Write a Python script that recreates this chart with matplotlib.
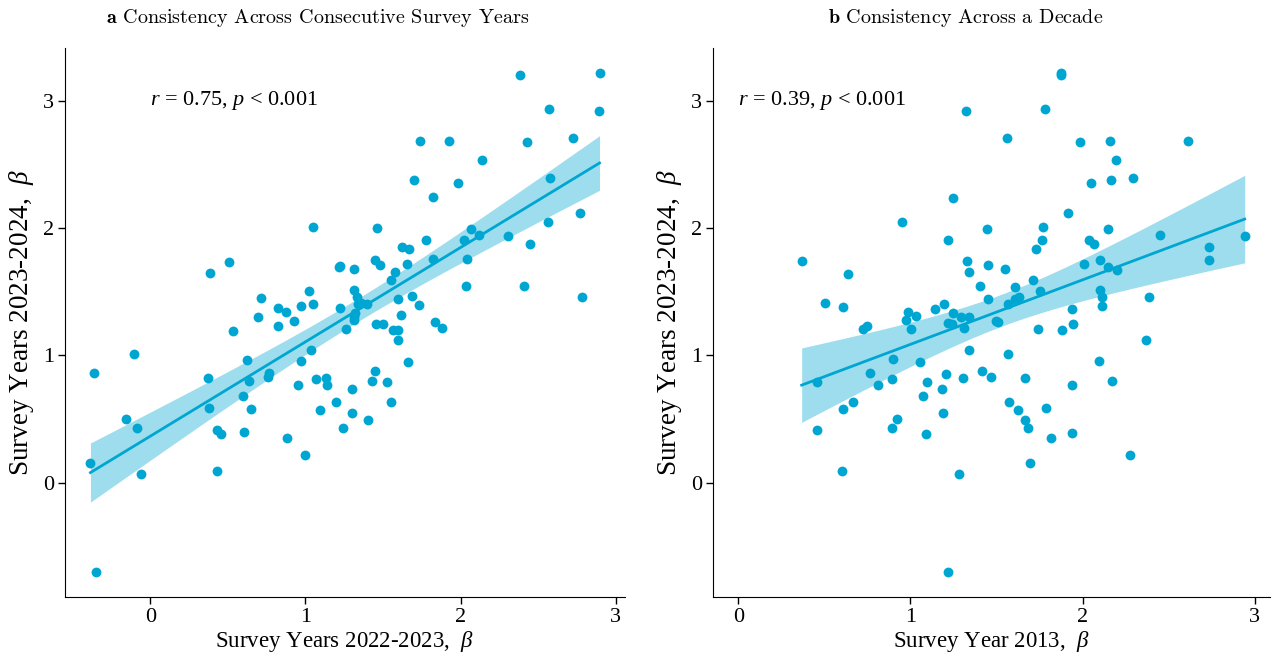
import numpy as np
import matplotlib
matplotlib.use('Agg')
import matplotlib.pyplot as plt

plt.rcParams['font.family'] = ['Liberation Serif', 'DejaVu Serif']
plt.rcParams['mathtext.fontset'] = 'custom'
plt.rcParams['mathtext.rm'] = 'Liberation Serif'
plt.rcParams['mathtext.it'] = 'Liberation Serif:italic'
plt.rcParams['mathtext.bf'] = 'cmb10'

# panel a: 2022-2023 beta (x) vs 2023-2024 beta (y)
a_x = [1.048, 0.509, 0.386, 1.215, 1.223, 1.316, 1.31, 1.02, 1.048, 0.715,
       0.82, 0.873, 0.97, 1.223, 0.697, 0.826, 0.925, 0.53, 1.262, 2.381,
       2.896, 2.567, 2.891, 1.74, 1.928, 2.427, 2.722, 2.138, 1.698, 1.983,
       2.576, 1.824, 1.46, 2.07, 2.024, 2.119, 2.307, 2.563, 2.771, 1.78,
       1.623, 1.666, 1.449, 1.483, 1.657, 1.824, 2.043, 2.449, 1.579, 1.549,
       1.33, 1.356, 1.399, 1.599, 1.689, 1.734, 1.616, 2.033, 2.41, 2.786,
       1.32, 1.31, 1.457, 1.50, 1.567, 1.597, 1.837, 1.882, 1.599, 1.659,
       1.451, 1.43, 1.528, 1.298, 1.554, 1.302, 1.406, 1.245, -0.363, -0.107,
       -0.386, -0.348, -0.155, -0.086, -0.06, 0.369, 0.38, 0.433, 0.457, 0.433,
       0.623, 0.638, 0.595, 0.649, 0.607, 0.762, 0.756, 0.953, 0.97, 1.033,
       0.878, 0.999, 1.069, 1.131, 1.138, 1.095, 1.198, 1.338, 1.31]
a_y = [2.01, 1.737, 1.643, 1.69, 1.70, 1.68, 1.51, 1.505, 1.40, 1.452,
       1.37, 1.34, 1.384, 1.37, 1.30, 1.23, 1.266, 1.195, 1.21, 3.205,
       3.218, 2.935, 2.92, 2.684, 2.686, 2.678, 2.705, 2.535, 2.377, 2.354,
       2.393, 2.24, 1.997, 1.992, 1.906, 1.945, 1.937, 2.047, 2.12, 1.906,
       1.853, 1.835, 1.748, 1.709, 1.714, 1.753, 1.753, 1.874, 1.656, 1.591,
       1.46, 1.415, 1.40, 1.444, 1.465, 1.394, 1.313, 1.544, 1.541, 1.46,
       1.336, 1.277, 1.25, 1.25, 1.203, 1.203, 1.263, 1.214, 1.12, 0.949,
       0.876, 0.797, 0.792, 0.739, 0.637, 0.546, 0.49, 0.428, 0.86, 1.009,
       0.153, -0.702, 0.50, 0.43, 0.068, 0.823, 0.587, 0.417, 0.385, 0.094,
       0.967, 0.80, 0.684, 0.582, 0.396, 0.862, 0.833, 0.77, 0.954, 1.041,
       0.354, 0.22, 0.813, 0.825, 0.766, 0.574, 0.637, 1.405, 1.30]

# panel b: 2013 beta (x) vs 2023-2024 beta (y)
b_x = [1.322, 1.245, 0.949, 1.447, 1.22, 0.368, 0.636, 1.326, 1.342, 1.453,
       1.405, 1.449, 0.505, 0.61, 0.986, 0.974, 1.032, 1.14, 1.193, 1.245,
       1.294, 1.342, 1.22, 1.24, 0.749, 0.726, 1.001, 1.311, 1.496, 1.338,
       0.901, 1.053, 0.457, 0.765, 0.811, 0.89, 1.094, 1.205, 1.184, 1.307,
       1.413, 1.467, 1.072, 0.607, 0.666, 1.192, 0.922, 0.893, 0.457, 1.088,
       0.605, 1.28, 1.219, 1.877, 1.877, 1.78, 1.563, 1.988, 2.159, 2.611,
       2.197, 2.047, 2.167, 2.292, 1.915, 1.77, 1.767, 1.73, 2.036, 2.067,
       2.149, 2.448, 2.942, 2.736, 2.736, 1.549, 2.007, 2.101, 2.148, 2.203,
       1.711, 1.607, 1.75, 1.605, 1.628, 1.568, 2.101, 2.111, 2.111, 1.94,
       1.946, 2.386, 1.509, 1.744, 1.882, 2.37, 1.568, 1.668, 2.098, 2.169,
       1.938, 1.574, 1.624, 1.786, 1.668, 1.682, 1.815, 1.936, 2.276, 1.692]
b_y = [2.922, 2.24, 2.047, 1.995, 1.906, 1.74, 1.643, 1.745, 1.656, 1.711,
       1.544, 1.442, 1.41, 1.384, 1.344, 1.277, 1.313, 1.368, 1.402, 1.334,
       1.30, 1.30, 1.258, 1.25, 1.232, 1.206, 1.206, 1.218, 1.271, 1.041,
       0.97, 0.949, 0.794, 0.86, 0.766, 0.813, 0.789, 0.857, 0.739, 0.823,
       0.878, 0.831, 0.682, 0.582, 0.637, 0.546, 0.501, 0.428, 0.417, 0.385,
       0.094, 0.068, -0.70, 3.205, 3.218, 2.935, 2.705, 2.678, 2.684, 2.686,
       2.535, 2.354, 2.377, 2.393, 2.12, 2.01, 1.903, 1.837, 1.906, 1.874,
       1.995, 1.945, 1.937, 1.85, 1.753, 1.68, 1.717, 1.753, 1.698, 1.672,
       1.591, 1.541, 1.505, 1.442, 1.46, 1.405, 1.515, 1.462, 1.392, 1.368,
       1.248, 1.46, 1.266, 1.208, 1.198, 1.12, 1.009, 0.825, 0.954, 0.801,
       0.768, 0.637, 0.574, 0.585, 0.49, 0.43, 0.354, 0.393, 0.218, 0.153]

titles = [r'$\mathbf{a}$ Consistency Across Consecutive Survey Years',
          r'$\mathbf{b}$ Consistency Across a Decade']
xlabels = [r'Survey Years 2022-2023,  $\beta$', r'Survey Year 2013,  $\beta$']
ylabel = r'Survey Years 2023-2024,  $\beta$'
stats = [r'$r$ = 0.75, $p$ < 0.001', r'$r$ = 0.39, $p$ < 0.001']

col = '#00a6d2'

fig = plt.figure(figsize=(12.72, 6.57), dpi=100)
ax1 = fig.add_axes([65/1272, 60/657, 560/1272, 549/657])
ax2 = fig.add_axes([713/1272, 60/657, 557/1272, 549/657])


def panel(ax, x, y, stat, xlab):
    x = np.array(x)
    y = np.array(y)
    n = len(x)
    b, a = np.polyfit(x, y, 1)
    xs = np.linspace(x.min(), x.max(), 100)
    ys = a + b * xs
    s = np.sqrt(np.sum((y - (a + b * x))**2) / (n - 2))
    sxx = np.sum((x - x.mean())**2)
    se = s * np.sqrt(1/n + (xs - x.mean())**2 / sxx)
    ax.fill_between(xs, ys - 1.98*se, ys + 1.98*se, color=col, alpha=0.38, lw=0)
    ax.plot(xs, ys, color=col, lw=2)
    ax.scatter(x, y, s=50, color=col, lw=0, zorder=3)
    lo = min(0, x.min())
    hi = x.max()
    ax.set_xlim(lo - 0.05*(hi-lo), hi + 0.05*(hi-lo))
    ax.set_ylim(min(y) - 0.05*(max(y)-min(y)), max(y) + 0.05*(max(y)-min(y)))
    ax.set_xticks([0, 1, 2, 3])
    ax.set_yticks([0, 1, 2, 3])
    ax.spines['top'].set_visible(False)
    ax.spines['right'].set_visible(False)
    ax.tick_params(labelsize=16, length=5, width=1, pad=3)
    ax.set_xlabel(xlab, fontsize=16.5, labelpad=1)
    ax.set_ylabel(ylabel, fontsize=19.5, labelpad=5)
    ax.text(0, 3, stat, fontsize=16, ha='left', va='center')


panel(ax1, a_x, a_y, stats[0], xlabels[0])
panel(ax2, b_x, b_y, stats[1], xlabels[1])

fig.text(318/1272, 1 - 18/657, titles[0], family='cmr10', fontsize=14.5,
         ha='center', va='center')
fig.text(966/1272, 1 - 18/657, titles[1], family='cmr10', fontsize=14.5,
         ha='center', va='center')

fig.savefig('out.png', dpi=100)
